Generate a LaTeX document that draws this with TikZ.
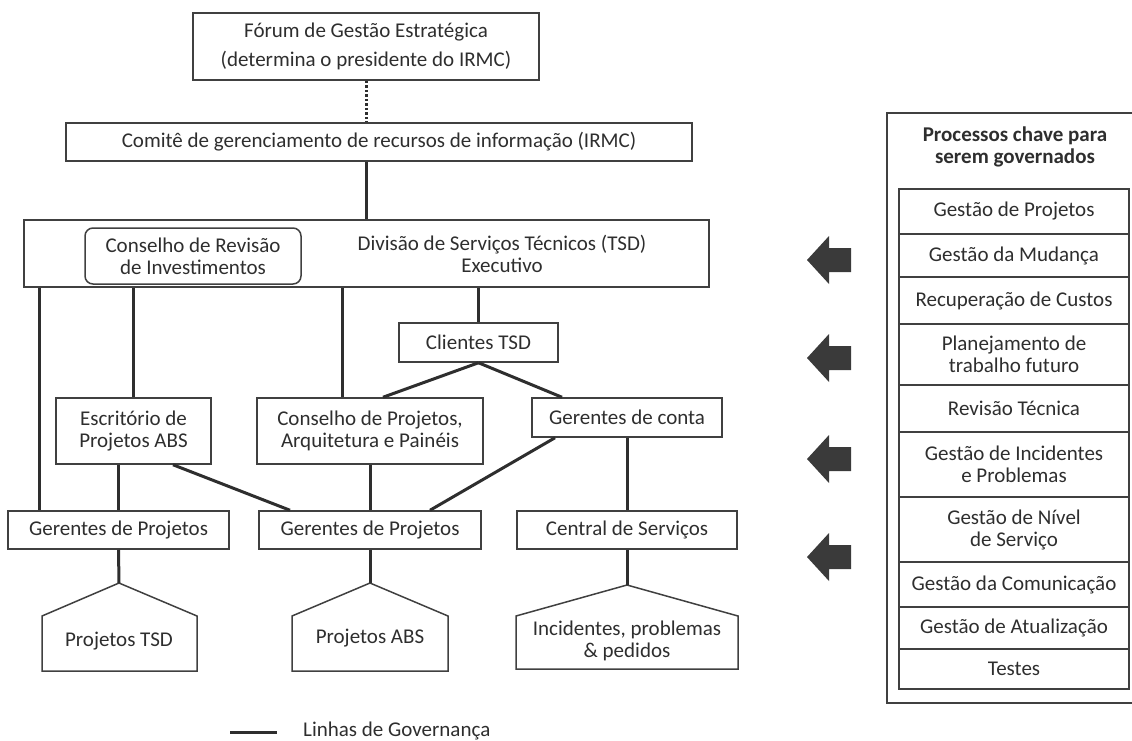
\documentclass[tikz,border=0pt]{standalone}
\usepackage{fontspec}
\setmainfont{Carlito}
\definecolor{ink}{HTML}{2E2E2E}
\definecolor{frame}{HTML}{404040}
\definecolor{arrowfill}{HTML}{3A3A3A}
\newcommand{\blockarrow}[1]{%
  \fill[arrowfill] (807,#1) -- (829,#1-24) -- (829,#1-12) -- (851,#1-12)
    -- (851,#1+12) -- (829,#1+12) -- (829,#1+24) -- cycle;}
\begin{document}
\begin{tikzpicture}[x=1pt,y=-1pt,
  txt/.style={text=ink, align=center, inner sep=0pt,
    font=\fontsize{21}{22}\selectfont},
  box/.style={txt, draw=frame, line width=1.5pt},
  gov/.style={draw=ink, line width=3pt},
  dotgov/.style={draw=ink, line width=3pt, dash pattern=on 2.5pt off 2pt},
  shield/.style={draw=frame, line width=1.5pt, line join=miter},
  row/.style={box, minimum width=230pt},
]
\useasboundingbox (0,0) rectangle (1132,740);
\clip (0,0) rectangle (1132,740);

% ---------- governance chart ----------
\node[box, minimum width=346pt, minimum height=67pt,
      font=\fontsize{21}{29}\selectfont] (forum) at (366,46.5)
  {Fórum de Gestão Estratégica\\(determina o presidente do IRMC)};
\node[box, minimum width=626pt, minimum height=38pt] (irmc) at (379,142)
  {Comitê de gerenciamento de recursos de informação (IRMC)};
\node[box, minimum width=685pt, minimum height=67pt] (tsd) at (366.5,253.5) {};
\node[txt] (tsdtext) at (502,254)
  {Divisão de Serviços Técnicos (TSD)\\Executivo};
\node[box, rounded corners=8pt, minimum width=216pt, minimum height=56pt]
  (review) at (193,256) {Conselho de Revisão\\de Investimentos};

\node[box, minimum width=159pt, minimum height=39pt] (clientes) at (478.5,342.5)
  {Clientes TSD};
\node[box, minimum width=155pt, minimum height=66pt] (escr) at (133.5,431)
  {Escritório de\\Projetos ABS};
\node[box, minimum width=226pt, minimum height=66pt] (conselho) at (370,431)
  {Conselho de Projetos,\\Arquitetura e Painéis};
\node[box, minimum width=190pt, minimum height=39pt] (contas) at (627,417.5)
  {Gerentes de conta};

\node[box, minimum width=221pt, minimum height=38pt] (gp1) at (118.5,530)
  {Gerentes de Projetos};
\node[box, minimum width=222pt, minimum height=38pt] (gp2) at (370,530)
  {Gerentes de Projetos};
\node[box, minimum width=220pt, minimum height=38pt] (central) at (627,530)
  {Central de Serviços};

% pentagon-shaped work packages
\coordinate (ptsd) at (119,583);
\draw[shield] (ptsd) -- (197,616) -- (197,671) -- (42,671) -- (42,616) -- cycle;
\node[txt] (projtsd) at (119,641) {Projetos TSD};
\coordinate (pabs) at (370,583);
\draw[shield] (pabs) -- (448,616) -- (448,671) -- (292,671) -- (292,616) -- cycle;
\node[txt] (projabs) at (370,638) {Projetos ABS};
\coordinate (pinc) at (627,585);
\draw[shield] (pinc) -- (738,616) -- (738,669) -- (516,669) -- (516,616) -- cycle;
\node[txt] (incid) at (627,641) {Incidentes, problemas\\\& pedidos};

% connectors
\draw[dotgov] (forum.south) -- (forum.south |- irmc.north);
\draw[gov] (forum.south |- irmc.south) -- (forum.south |- tsd.north);

\coordinate (xa) at (39,0);
\coordinate (xb) at (342,0);
\draw[gov] (xa |- tsd.south) -- (xa |- gp1.north);
\draw[gov] (escr.north |- tsd.south) -- (escr.north);
\draw[gov] (xb |- tsd.south) -- (xb |- conselho.north);
\draw[gov] (clientes.north |- tsd.south) -- (clientes.north);

\coordinate (cl) at (383,0);
\coordinate (cr) at (562,0);
\draw[gov] (clientes.south) -- (cl |- conselho.north);
\draw[gov] (clientes.south) -- (cr |- contas.north);

\coordinate (e1) at (173,0);
\coordinate (g2a) at (290,0);
\coordinate (g2b) at (430,0);
\coordinate (k1) at (555,0);
\draw[gov] (gp1.north |- escr.south) -- (gp1.north);
\draw[gov] (e1 |- escr.south) -- (g2a |- gp2.north);
\draw[gov] (conselho.south) -- (gp2.north);
\draw[gov] (k1 |- contas.south) -- (g2b |- gp2.north);
\draw[gov] (contas.south) -- (central.north);

\draw[gov] (gp1.south) -- (ptsd);
\draw[gov] (gp2.south) -- (pabs);
\draw[gov] (central.south) -- (pinc);

% legend
\coordinate (lg1) at (230,732);
\coordinate (lg2) at (277,732);
\draw[gov] (lg1) -- (lg2);
\node[txt, anchor=west] (lgtext) at (303,731) {Linhas de Governança};

% ---------- key processes panel ----------
\draw[frame, line width=1.5pt] (887,113) rectangle (1145,703);
\node[txt, font=\fontsize{21}{22}\bfseries\selectfont] (head) at (1015,147)
  {Processos chave para\\serem governados};

\node[row, minimum height=45pt] (r1) at (1014,211.5) {Gestão de Projetos};
\node[row, minimum height=43pt] (r2) at (1014,255.5) {Gestão da Mudança};
\node[row, minimum height=47pt] (r3) at (1014,300.5) {Recuperação de Custos};
\node[row, minimum height=61pt] (r4) at (1014,354.5) {Planejamento de\\trabalho futuro};
\node[row, minimum height=47pt] (r5) at (1014,408.5) {Revisão Técnica};
\node[row, minimum height=65pt] (r6) at (1014,464.5) {Gestão de Incidentes\\e Problemas};
\node[row, minimum height=65pt] (r7) at (1014,529.5) {Gestão de Nível\\de Serviço};
\node[row, minimum height=45pt] (r8) at (1014,584.5) {Gestão da Comunicação};
\node[row, minimum height=42pt] (r9) at (1014,628) {Gestão de Atualização};
\node[row, minimum height=40pt] (r10) at (1014,669) {Testes};

% arrows linking the panel to the chart
\blockarrow{260}
\blockarrow{358}
\blockarrow{459}
\blockarrow{557}
\end{tikzpicture}
\end{document}
